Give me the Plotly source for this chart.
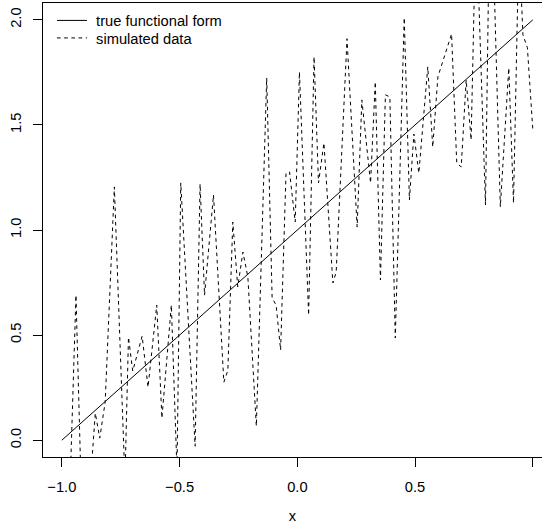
import plotly.graph_objects as go

# True functional form: straight line y = x + 1 over [-1, 1]
true_x = [-1.0, 1.0]
true_y = [0.0, 2.0]

# Simulated (noisy) observations, traced as a polyline
sim_x = [-1.000, -0.967, -0.940, -0.912, -0.887, -0.858, -0.839, -0.816, -0.777, -0.732,
         -0.717, -0.699, -0.659, -0.634, -0.597, -0.575, -0.535, -0.511, -0.495, -0.434,
         -0.413, -0.394, -0.356, -0.312, -0.295, -0.274, -0.253, -0.231, -0.210, -0.174,
         -0.130, -0.107, -0.090, -0.071, -0.048, -0.033, -0.009, 0.009, 0.048, 0.071,
         0.090, 0.113, 0.151, 0.165, 0.211, 0.254, 0.274, 0.311, 0.331, 0.353,
         0.374, 0.393, 0.416, 0.454, 0.476, 0.495, 0.516, 0.554, 0.575, 0.597,
         0.655, 0.677, 0.696, 0.717, 0.738, 0.759, 0.799, 0.820, 0.862, 0.898,
         0.918, 0.941, 0.958, 0.977, 1.000]
sim_y = [-0.143, -0.286, 0.690, -0.476, -0.333, 0.129, 0.010, 0.181, 1.205, -0.190,
         0.490, 0.329, 0.495, 0.252, 0.643, 0.105, 0.643, -0.143, 1.224, -0.029,
         1.219, 0.690, 1.167, 0.276, 0.333, 1.038, 0.729, 0.895, 0.776, 0.067,
         1.724, 0.676, 0.643, 0.429, 1.271, 1.276, 1.038, 1.752, 0.595, 1.824,
         1.224, 1.414, 0.748, 0.800, 1.910, 1.014, 1.619, 1.224, 1.705, 0.762,
         1.643, 1.633, 0.486, 2.010, 1.143, 1.457, 1.271, 1.776, 1.395, 1.729,
         1.933, 1.319, 1.300, 1.714, 1.429, 2.500, 1.119, 2.810, 1.110, 1.771,
         1.129, 2.381, 1.929, 1.867, 1.476]

x_ticks = [-1.0, -0.5, 0.0, 0.5, 1.0]
y_ticks = [0.0, 0.5, 1.0, 1.5, 2.0]

FONT = "Liberation Sans, Arial, Helvetica, sans-serif"
FS = 14.7
NB = "\u00a0"  # small gap between legend key and label

fig = go.Figure()
fig.add_trace(go.Scatter(
    x=true_x, y=true_y, mode="lines", name=NB + "true functional form",
    line=dict(color="black", width=1), legend="legend",
))
fig.add_trace(go.Scatter(
    x=sim_x, y=sim_y, mode="lines", name=NB + "simulated data",
    line=dict(color="black", width=1, dash="3.6px,3.6px"), legend="legend2",
))

legend_common = dict(
    xanchor="left", yanchor="top",
    bgcolor="rgba(0,0,0,0)", borderwidth=0,
    font=dict(family=FONT, size=FS, color="black"),
    itemwidth=30,
)

fig.update_layout(
    width=542, height=531,
    margin=dict(l=43, r=0, t=3, b=74, pad=0),
    paper_bgcolor="white", plot_bgcolor="white",
    font=dict(family=FONT, size=FS, color="black"),
    showlegend=True,
    legend=dict(x=0.018, y=0.997, **legend_common),
    legend2=dict(x=0.018, y=0.997 - 17.5 / 454, **legend_common),
    xaxis=dict(
        range=[-1.08, 1.039], tickvals=x_ticks, tickformat=".1f",
        showgrid=False, zeroline=False,
        showline=True, linecolor="black", linewidth=1, mirror=True,
        ticks="outside", ticklen=9, tickwidth=1, tickcolor="black",
        ticklabelstandoff=7,
        title=dict(text="x", standoff=17, font=dict(family=FONT, size=FS)),
    ),
    yaxis=dict(
        range=[-0.08, 2.08], tickvals=y_ticks, tickformat=".1f",
        showgrid=False, zeroline=False,
        showline=True, linecolor="black", linewidth=1,
        ticks="outside", ticklen=9, tickwidth=1, tickcolor="black",
        tickangle=-90, ticklabelstandoff=6,
    ),
)

fig.write_html("out.html")
